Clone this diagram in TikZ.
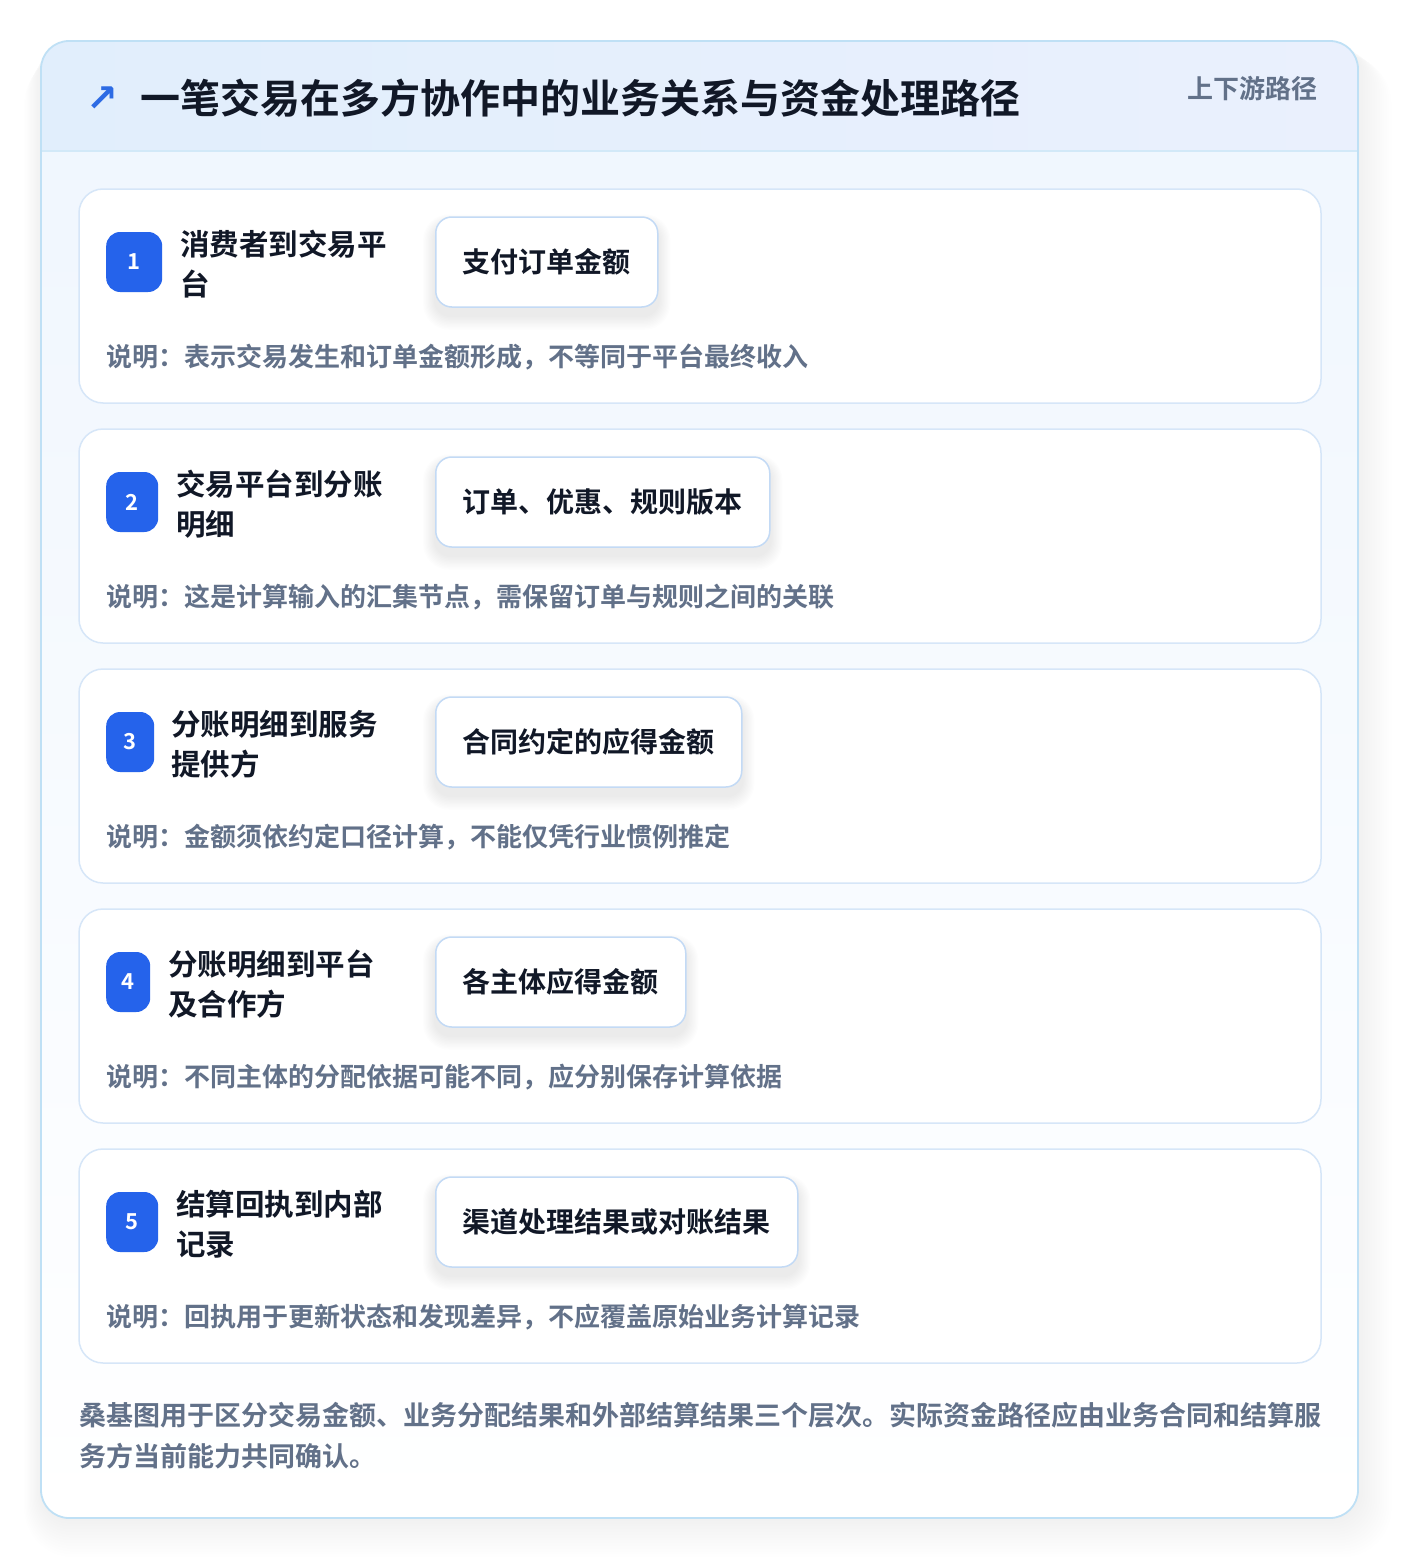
\documentclass[tikz,border=0pt]{standalone}
\usepackage{fontspec}
\setmainfont{Noto Sans CJK SC}[BoldFont={Noto Sans CJK SC Bold}]
\newfontfamily\symfont{DejaVu Sans}
\definecolor{titledark}{HTML}{111827}
\definecolor{graytxt}{HTML}{627189}
\definecolor{badgeblue}{HTML}{2563EB}
\definecolor{cardline}{HTML}{D6E6F8}
\definecolor{mainline}{HTML}{BFE0F5}
\definecolor{boxline}{HTML}{C3DAF5}
\definecolor{hdrL}{HTML}{E1EEFC}
\definecolor{hdrR}{HTML}{EAF0FD}
\definecolor{bodyTop}{HTML}{EFF6FE}
\definecolor{iconblue}{HTML}{2D6BE4}
\tikzset{
  cardbox/.style={draw=cardline, line width=1.5pt, fill=white, rounded corners=24pt},
  badgebox/.style={fill=badgeblue, rounded corners=14pt, minimum height=60pt, inner sep=0pt, text=white, font=\bfseries\fontsize{22}{26}\selectfont},
  titletext/.style={anchor=west, inner sep=0pt, align=left, text=titledark, font=\bfseries\fontsize{29.5}{40}\selectfont},
  valuebox/.style={draw=boxline, line width=1.5pt, fill=white, rounded corners=16pt, minimum height=90pt, inner xsep=27pt, inner ysep=0pt, anchor=west, text=titledark, font=\bfseries\fontsize{28}{32}\selectfont},
  desctext/.style={anchor=west, inner sep=0pt, text=graytxt, font=\bfseries\fontsize{26}{30}\selectfont},
  foottext/.style={anchor=west, inner sep=0pt, text=graytxt, font=\bfseries\fontsize{27}{32}\selectfont}
}
\newcommand\mkcard[8]{%
  % #1 id, #2 top, #3 num, #4 badge width, #5 title x, #6 title, #7 value, #8 desc
  \draw[cardbox] (79,#2) rectangle (1321,#2+214);
  \node[badgebox, minimum width=#4pt, anchor=west] (badge#1) at (106,#2+73) {#3};
  \node[titletext] (title#1) at (#5,#2+75) {#6};
  \node[valuebox, draw=none, fill=none, text opacity=0] (ghost#1) at (435,#2+73) {#7};
  \foreach \k in {1,...,10}{
    \fill[black, opacity=0.006, rounded corners=16pt+\k pt]
      ([xshift=-\k*1.2pt, yshift=-8pt+\k*1.0pt]ghost#1.north west) rectangle ([xshift=\k*1.2pt, yshift=-8pt-\k*1.4pt]ghost#1.south east);
  }
  \node[valuebox] (val#1) at (435,#2+73) {#7};
  \node[desctext] (desc#1) at (106,#2+168) {#8};
}
\begin{document}
\begin{tikzpicture}[x=1pt,y=-1pt]
\useasboundingbox (0,0) rectangle (1400,1560);
\fill[white] (0,0) rectangle (1400,1560);
% soft shadow of main card
\foreach \k in {1,...,14}{
  \fill[black, opacity=0.005, rounded corners=28pt+\k*1.5pt]
    (41-\k*1.2,41+\k*1.0) rectangle (1358+\k*2.4,1518+\k*2.8);
}
% main card body
\path[rounded corners=28pt, top color=bodyTop, bottom color=white]
  (41,41) rectangle (1358,1518);
\begin{scope}
  \clip[rounded corners=28pt] (41,41) rectangle (1358,1518);
  \path[left color=hdrL, right color=hdrR] (41,41) rectangle (1358,151);
  \draw[mainline!70, line width=1.5pt] (41,151) -- (1358,151);
\end{scope}
\draw[mainline, line width=1.8pt, rounded corners=28pt] (41,41) rectangle (1358,1518);
% header
\node[inner sep=0pt, text=iconblue, font=\symfont\bfseries\fontsize{38}{38}\selectfont] (icon) at (102,99) {↗};
\node[anchor=west, inner sep=0pt, text=titledark, font=\bfseries\fontsize{40}{44}\selectfont] (title) at (140,98) {一笔交易在多方协作中的业务关系与资金处理路径};
\node[anchor=east, inner sep=0pt, text=graytxt, font=\bfseries\fontsize{26}{30}\selectfont] (tag) at (1318,89) {上下游路径};
% cards
\mkcard{1}{189}{1}{56}{180}{消费者到交易平\\台}{支付订单金额}{说明：表示交易发生和订单金额形成，不等同于平台最终收入}
\mkcard{2}{429}{2}{52}{176}{交易平台到分账\\明细}{订单、优惠、规则版本}{说明：这是计算输入的汇集节点，需保留订单与规则之间的关联}
\mkcard{3}{669}{3}{48}{171}{分账明细到服务\\提供方}{合同约定的应得金额}{说明：金额须依约定口径计算，不能仅凭行业惯例推定}
\mkcard{4}{909}{4}{44}{168}{分账明细到平台\\及合作方}{各主体应得金额}{说明：不同主体的分配依据可能不同，应分别保存计算依据}
\mkcard{5}{1149}{5}{52}{176}{结算回执到内部\\记录}{渠道处理结果或对账结果}{说明：回执用于更新状态和发现差异，不应覆盖原始业务计算记录}
% footer
\node[foottext] (foot1) at (79,1415) {桑基图用于区分交易金额、业务分配结果和外部结算结果三个层次。实际资金路径应由业务合同和结算服};
\node[foottext] (foot2) at (79,1456) {务方当前能力共同确认。};
\end{tikzpicture}
\end{document}
